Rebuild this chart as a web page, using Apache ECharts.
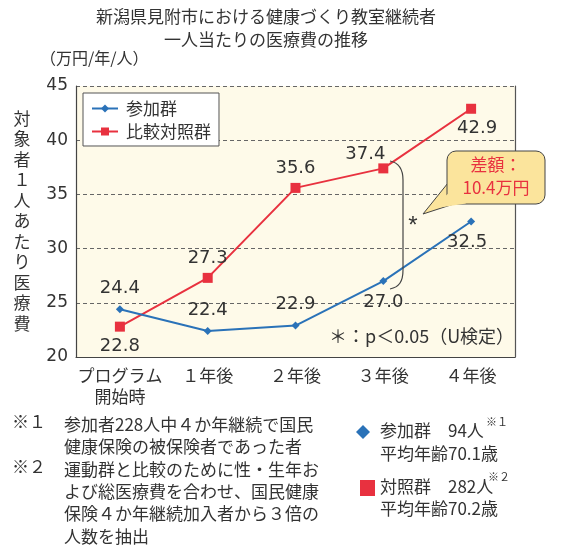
<!DOCTYPE html>
<html>
<head>
<meta charset="utf-8">
<script src="https://cdn.jsdelivr.net/npm/echarts@6/dist/echarts.min.js"></script>
<style>
  html, body { margin: 0; padding: 0; background: #fff; }
  #chart { width: 581px; height: 549px; }
</style>
</head>
<body>
<div id="chart"></div>
<script>
const categories = ['プログラム\n開始時', '１年後', '２年後', '３年後', '４年後']
const sankaValues = [24.4, 22.4, 22.9, 27.0, 32.5]
const taishoValues = [22.8, 27.3, 35.6, 37.4, 42.9]
const yTicks = { min: 20, max: 45, interval: 5 }

const FONT = '"Noto Sans CJK JP", "Noto Sans", sans-serif'
const NUM = '"DejaVu Sans", sans-serif'
const TXT = '#333'
const BLUE = '#2a72b8'
const RED = '#e8313f'

// label placement per point (above / below)
const sankaLabelPos = ['top', 'top', 'top', 'bottom', 'bottom']
const taishoLabelPos = ['bottom', 'top', 'top', 'top', 'bottom']

function withLabels(values, positions, extra) {
  return values.map((v, i) => ({
    value: v,
    label: Object.assign({ position: positions[i] }, (extra && extra[i]) || {}),
  }))
}

const chart = echarts.init(document.getElementById('chart'))

const txt = (x, y, text, opts, z) => ({
  type: 'text', x, y, z: z || 20,
  style: Object.assign({ text, font: `17px ${FONT}`, fill: TXT }, opts || {}),
})

const bracketStyle = { fill: null, stroke: '#444', lineWidth: 1.2 }

chart.setOption({
  backgroundColor: '#fff',
  animation: false,
  textStyle: { fontFamily: FONT },
  grid: {
    left: 76, right: 66, top: 86, bottom: 192,
    show: true, backgroundColor: '#fefae9', borderWidth: 0,
  },
  legend: {
    left: 83, top: 93, orient: 'vertical',
    padding: [7, 8, 6, 8], itemGap: 6,
    borderColor: '#555', borderWidth: 1, backgroundColor: '#fff',
    itemWidth: 26, itemHeight: 10,
    textStyle: { fontSize: 17, color: TXT, fontFamily: FONT, padding: [0, 0, 0, 3] },
    data: ['参加群', '比較対照群'],
  },
  xAxis: {
    type: 'category',
    data: categories,
    axisLine: { lineStyle: { color: '#444', width: 1.2 } },
    axisTick: { inside: true, length: 6, lineStyle: { color: '#444' } },
    axisLabel: { interval: 0, fontSize: 17, color: TXT, lineHeight: 21, margin: 8, fontFamily: FONT },
  },
  yAxis: [{
    type: 'value',
    min: yTicks.min, max: yTicks.max, interval: yTicks.interval,
    axisLine: { show: true, lineStyle: { color: '#444', width: 1.2 } },
    axisTick: { show: false },
    axisLabel: { fontSize: 17, color: TXT, margin: 8, fontFamily: NUM },
    splitLine: { lineStyle: { color: '#666', type: [4, 3], width: 1 } },
  }, {
    type: 'value', position: 'right',
    min: yTicks.min, max: yTicks.max, interval: yTicks.interval,
    axisLine: { show: true, lineStyle: { color: '#555', width: 1.2 } },
    axisTick: { show: false }, axisLabel: { show: false }, splitLine: { show: false },
  }],
  series: [
    {
      name: '参加群', type: 'line', z: 3,
      data: withLabels(sankaValues, sankaLabelPos, [null, null, null, null, { offset: [-4, 0] }]),
      symbol: 'diamond', symbolSize: 8,
      itemStyle: { color: BLUE },
      lineStyle: { color: BLUE, width: 2 },
      label: {
        show: true, fontSize: 18, color: TXT, distance: 8,
        fontFamily: NUM,
        formatter: p => p.value.toFixed(1),
      },
    },
    {
      name: '比較対照群', type: 'line', z: 2,
      data: withLabels(taishoValues, taishoLabelPos, [null, null, null, { offset: [-18, 6] }, { offset: [6, 0] }]),
      symbol: 'rect', symbolSize: 10,
      itemStyle: { color: RED },
      lineStyle: { color: RED, width: 2 },
      label: {
        show: true, fontSize: 18, color: TXT, distance: 6,
        fontFamily: NUM,
        formatter: p => p.value.toFixed(1),
      },
    },
  ],
  graphic: [
    // title
    txt(266, 8, '新潟県見附市における健康づくり教室継続者', { textAlign: 'center' }),
    txt(266, 31, '一人当たりの医療費の推移', { textAlign: 'center' }),
    txt(40, 50, '（万円/年/人）', { font: `16px ${FONT}` }),
    // vertical y-axis title
    txt(22, 108, '対\n象\n者\n１\n人\nあ\nた\nり\n医\n療\n費', {
      textAlign: 'center', lineHeight: 20.5, font: `17px ${FONT}`,
    }),
    // bracket between groups at year 3
    {
      type: 'bezierCurve', z: 10,
      shape: { x1: 390, y1: 161, cpx1: 400, cpy1: 163, cpx2: 403, cpy2: 170, x2: 403, y2: 180 },
      style: bracketStyle,
    },
    {
      type: 'line', z: 10,
      shape: { x1: 403, y1: 180, x2: 403, y2: 270 },
      style: bracketStyle,
    },
    {
      type: 'bezierCurve', z: 10,
      shape: { x1: 403, y1: 270, cpx1: 403, cpy1: 282, cpx2: 399, cpy2: 287, x2: 390, y2: 289 },
      style: bracketStyle,
    },
    txt(413, 214, '*', { textAlign: 'center', font: `24px "Liberation Sans", sans-serif` }),
    // callout
    {
      type: 'polygon', z: 10,
      shape: { points: [[452, 178], [423, 214], [466, 200]] },
      style: { fill: '#fbe49c', stroke: '#444', lineWidth: 1 },
    },
    {
      type: 'rect', z: 11,
      shape: { x: 447, y: 151, width: 98, height: 53, r: 9 },
      style: { fill: '#fbe49c', stroke: '#444', lineWidth: 1 },
    },
    {
      type: 'polygon', z: 12,
      shape: { points: [[452.5, 190], [430, 209], [466, 203.4]] },
      style: { fill: '#fbe49c', stroke: null },
    },
    txt(496, 156, '差額：', { textAlign: 'center', fill: RED, font: `17px ${FONT}` }),
    txt(496, 179, '10.4万円', { textAlign: 'center', fill: RED, font: `17px ${FONT}` }),
    txt(329, 327, '＊：p＜0.05（U検定）', { font: `18px ${FONT}` }),
    // footnotes
    txt(12, 413, '※１', { font: `17px ${FONT}` }),
    txt(64, 413, '参加者228人中４か年継続で国民\n健康保険の被保険者であった者', { font: `17px ${FONT}`, lineHeight: 22.3 }),
    txt(12, 458, '※２', { font: `17px ${FONT}` }),
    txt(64, 458, '運動群と比較のために性・生年お\nよび総医療費を合わせ、国民健康\n保険４か年継続加入者から３倍の\n人数を抽出', { font: `17px ${FONT}`, lineHeight: 22.3 }),
    // group key
    {
      type: 'polygon',
      shape: { points: [[363, 425], [370, 432], [363, 439], [356, 432]] },
      style: { fill: BLUE },
    },
    txt(380, 422, '参加群　94人', { font: `17px ${FONT}` }),
    txt(486, 416, '※１', { font: `11px ${FONT}` }),
    txt(380, 445, '平均年齢70.1歳', { font: `17px ${FONT}` }),
    {
      type: 'rect',
      shape: { x: 360, y: 480, width: 15, height: 16 },
      style: { fill: RED },
    },
    txt(380, 478, '対照群　282人', { font: `17px ${FONT}` }),
    txt(488, 471, '※２', { font: `11px ${FONT}` }),
    txt(380, 500, '平均年齢70.2歳', { font: `17px ${FONT}` }),
  ],
})
</script>
</body>
</html>
